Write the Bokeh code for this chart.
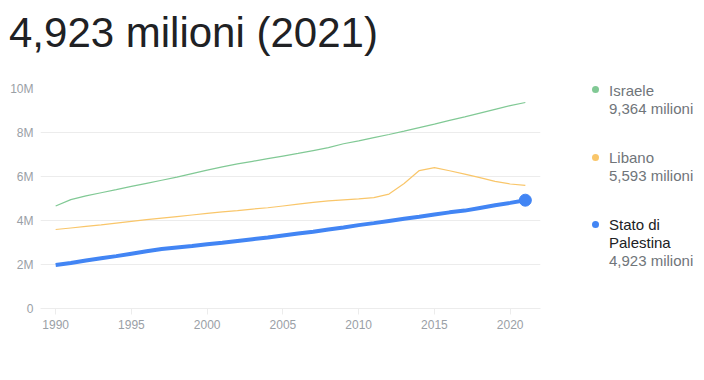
from bokeh.plotting import figure
from bokeh.models import Range1d, FixedTicker, CustomJSTickFormatter, Div
from bokeh.layouts import column, row
from bokeh.embed import file_html
from bokeh.resources import INLINE

years = list(range(1990, 2022))
israele = [4.66, 4.95, 5.12, 5.26, 5.40, 5.55, 5.69, 5.83, 5.97, 6.13, 6.29, 6.44, 6.57, 6.69, 6.81, 6.93,
           7.05, 7.18, 7.31, 7.49, 7.62, 7.77, 7.91, 8.06, 8.22, 8.38, 8.55, 8.71, 8.88, 9.05, 9.22, 9.364]
libano = [3.59, 3.66, 3.73, 3.80, 3.88, 3.96, 4.04, 4.11, 4.18, 4.25, 4.32, 4.39, 4.45, 4.52, 4.58, 4.66,
          4.74, 4.82, 4.89, 4.94, 4.98, 5.04, 5.20, 5.68, 6.27, 6.40, 6.26, 6.11, 5.95, 5.78, 5.66, 5.593]
palestina = [1.98, 2.07, 2.18, 2.28, 2.38, 2.49, 2.60, 2.70, 2.77, 2.84, 2.92, 2.99, 3.07, 3.15, 3.23, 3.32,
             3.41, 3.49, 3.59, 3.68, 3.79, 3.88, 3.98, 4.08, 4.17, 4.27, 4.37, 4.45, 4.57, 4.69, 4.80, 4.923]
y_ticks = [0, 2, 4, 6, 8, 10]
x_ticks = [1990, 1995, 2000, 2005, 2010, 2015, 2020]
title_text = "4,923 milioni (2021)"
legend_names = [["Israele"], ["Libano"], ["Stato di", "Palestina"]]
legend_values = ["9,364 milioni", "5,593 milioni", "4,923 milioni"]

FONT = "Liberation Sans"
GREEN = "#81c995"
ORANGE = "#f9c66a"
BLUE = "#4285f4"
GRID = "#ececec"
TICK = "#9aa0a6"

TITLE_H = 60
FIG_W = 550
FIG_H = 304

p = figure(width=FIG_W, height=FIG_H, output_backend="svg", toolbar_location=None,
           x_range=Range1d(1989, 2022), y_range=Range1d(0, 10),
           min_border_left=40, min_border_right=10, min_border_top=28, min_border_bottom=56)
p.outline_line_color = None
p.background_fill_color = "white"
p.border_fill_color = "white"

p.xgrid.grid_line_color = None
p.ygrid.grid_line_color = GRID
p.ygrid.ticker = FixedTicker(ticks=y_ticks)

p.xaxis.ticker = FixedTicker(ticks=x_ticks)
p.xaxis.axis_line_color = GRID
p.xaxis.major_tick_line_color = GRID
p.xaxis.major_tick_in = 0
p.xaxis.major_tick_out = 6
p.xaxis.minor_tick_line_color = None
p.xaxis.major_label_text_color = TICK
p.xaxis.major_label_text_font = FONT
p.xaxis.major_label_text_font_size = "12px"
p.xaxis.major_label_standoff = 5

p.yaxis.ticker = FixedTicker(ticks=y_ticks)
p.yaxis.axis_line_color = None
p.yaxis.major_tick_line_color = None
p.yaxis.minor_tick_line_color = None
p.yaxis.major_tick_in = 0
p.yaxis.major_tick_out = 0
p.yaxis.major_label_text_color = TICK
p.yaxis.major_label_text_font = FONT
p.yaxis.major_label_text_font_size = "12px"
p.yaxis.major_label_standoff = 7
p.yaxis.formatter = CustomJSTickFormatter(code="return tick == 0 ? '0' : tick + 'M';")

p.line(years, israele, line_color=GREEN, line_width=1.2)
p.line(years, libano, line_color=ORANGE, line_width=1.2)
p.line(years, palestina, line_color=BLUE, line_width=4)
p.scatter([years[-1]], [palestina[-1]], size=12, color=BLUE)

title = Div(text=title_text, width=688, height=TITLE_H, margin=0,
            styles={"font-family": FONT, "font-size": "42px", "line-height": "42px",
                    "color": "#202124", "padding-top": "12px", "padding-left": "9px",
                    "white-space": "nowrap", "box-sizing": "border-box"})

colors = [GREEN, ORANGE, BLUE]
block_top = [22, 89, 156]
dot_y = [29, 97, 164]
name_colors = ["#70757a", "#70757a", "#202124"]
parts = []
for i in range(3):
    lines = "".join(f"<div style='color:{name_colors[i]}'>{t}</div>" for t in legend_names[i])
    lines += f"<div style='color:#70757a'>{legend_values[i]}</div>"
    parts.append(f"<div style='position:absolute;left:59px;top:{block_top[i]}px;"
                 f"font-family:{FONT};font-size:15px;line-height:18px;white-space:nowrap'>{lines}</div>")
    parts.append(f"<div style='position:absolute;left:{45 - 3.5}px;top:{dot_y[i] - 3.5}px;width:7px;height:7px;"
                 f"border-radius:50%;background:{colors[i]}'></div>")
legend = Div(text=f"<div style='position:relative;width:138px;height:{FIG_H}px'>{''.join(parts)}</div>",
             width=138, height=FIG_H, margin=0)

layout = column(title, row(p, legend, spacing=0), spacing=0)
open("out.html", "w").write(file_html(layout, INLINE))
